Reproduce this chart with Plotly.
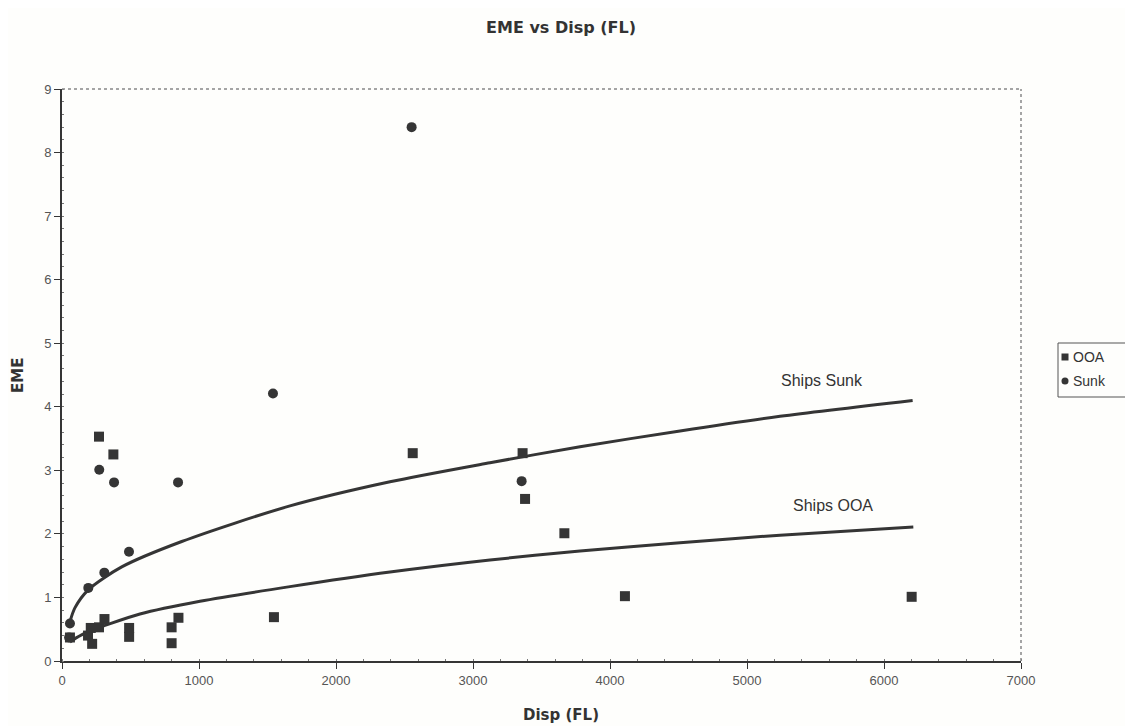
import plotly.graph_objects as go

# ---- data ----
ooa_disp = [58, 190, 210, 220, 270, 310, 490, 490, 800, 800, 850, 270, 375, 1547, 2560, 3362, 3380, 3667, 4109, 6202]
ooa_eme = [0.37, 0.40, 0.52, 0.27, 0.53, 0.66, 0.52, 0.38, 0.53, 0.28, 0.68, 3.53, 3.25, 0.69, 3.27, 3.27, 2.55, 2.01, 1.02, 1.01]

sunk_disp = [52, 58, 192, 272, 309, 380, 489, 847, 1540, 2552, 3355]
sunk_eme = [0.37, 0.59, 1.15, 3.01, 1.39, 2.81, 1.72, 2.81, 4.21, 8.40, 2.83]

# trend curves
sunk_curve_x = [58, 95, 192, 436, 874, 1664, 2394, 3124, 3781, 4511, 5241, 6209]
sunk_curve_y = [0.62, 0.84, 1.12, 1.48, 1.88, 2.44, 2.82, 3.12, 3.37, 3.62, 3.85, 4.10]

ooa_curve_x = [58, 100, 150, 220, 314, 569, 1007, 1664, 2394, 3124, 3781, 4511, 5241, 6214]
ooa_curve_y = [0.30, 0.36, 0.42, 0.49, 0.56, 0.74, 0.94, 1.17, 1.40, 1.59, 1.73, 1.86, 1.98, 2.11]

x_ticks = [0, 1000, 2000, 3000, 4000, 5000, 6000, 7000]
y_ticks = [0, 1, 2, 3, 4, 5, 6, 7, 8, 9]

legend_names = ["OOA", "Sunk"]

ink = "#353535"
font_fam = "Liberation Sans, Arial, sans-serif"
bold_fam = "DejaVu Sans, Liberation Sans, sans-serif"

W, H = 1125, 718
L, T, R, B = 54, 81, 112, 65
pw, ph = W - L - R, H - T - B


def px_x(p):  # page pixel -> paper x
    return (p - 8 - L) / pw


def px_y(p):  # page pixel -> paper y
    return (H - B - (p - 8)) / ph


fig = go.Figure()

fig.add_trace(go.Scatter(x=sunk_curve_x, y=sunk_curve_y, mode="lines",
                         line=dict(color=ink, width=3, shape="spline", smoothing=0.8),
                         showlegend=False, hoverinfo="skip"))
fig.add_trace(go.Scatter(x=ooa_curve_x, y=ooa_curve_y, mode="lines",
                         line=dict(color=ink, width=3, shape="spline", smoothing=0.8),
                         showlegend=False, hoverinfo="skip"))

fig.add_trace(go.Scatter(x=ooa_disp, y=ooa_eme, mode="markers", name=legend_names[0],
                         marker=dict(symbol="square", size=10, color=ink),
                         showlegend=False))
fig.add_trace(go.Scatter(x=sunk_disp, y=sunk_eme, mode="markers", name=legend_names[1],
                         marker=dict(symbol="circle", size=10, color=ink),
                         showlegend=False))

fig.add_annotation(x=5545, y=4.42, text="Ships Sunk", showarrow=False,
                   font=dict(family=font_fam, size=16, color="#333"))
fig.add_annotation(x=5625, y=2.44, text="Ships OOA", showarrow=False,
                   font=dict(family=font_fam, size=16, color="#333"))

# axis titles placed as in the reference
fig.add_annotation(xref="paper", yref="paper", x=px_x(561), y=px_y(715),
                   text="<b>Disp (FL)</b>", showarrow=False, xanchor="center", yanchor="middle",
                   font=dict(family=bold_fam, size=15, color="#333"))
fig.add_annotation(xref="paper", yref="paper", x=px_x(18), y=px_y(376),
                   text="<b>EME</b>", showarrow=False, textangle=-90,
                   xanchor="center", yanchor="middle",
                   font=dict(family=bold_fam, size=15, color="#333"))

# dotted top / right frame
fig.add_shape(type="line", xref="paper", yref="paper", x0=0, x1=1, y0=1, y1=1,
              line=dict(color="#888", width=1.5, dash="dot"))
fig.add_shape(type="line", xref="paper", yref="paper", x0=1, x1=1, y0=0, y1=1,
              line=dict(color="#888", width=1.5, dash="dot"))

# legend box drawn by hand (compact like the reference)
fig.add_shape(type="rect", xref="paper", yref="paper",
              x0=px_x(1058), x1=px_x(1127), y0=px_y(397), y1=px_y(343),
              line=dict(color="#555", width=1), fillcolor="#fefefc")
sq = 3.5
fig.add_shape(type="rect", xref="paper", yref="paper",
              x0=px_x(1065 - sq), x1=px_x(1065 + sq), y0=px_y(357 + sq), y1=px_y(357 - sq),
              line=dict(width=0), fillcolor=ink)
fig.add_shape(type="circle", xref="paper", yref="paper",
              x0=px_x(1065 - sq), x1=px_x(1065 + sq), y0=px_y(381 + sq), y1=px_y(381 - sq),
              line=dict(width=0), fillcolor=ink)
for name, yp in zip(legend_names, [357, 381]):
    fig.add_annotation(xref="paper", yref="paper", x=px_x(1071), y=px_y(yp),
                       xanchor="left", yanchor="middle", text=name, showarrow=False,
                       font=dict(family=font_fam, size=14, color="#333"))

fig.update_layout(
    width=W, height=H,
    margin=dict(l=L, r=R, t=T, b=B, autoexpand=False),
    paper_bgcolor="#fefefc", plot_bgcolor="#fefefc",
    font=dict(family=font_fam, size=13, color="#555"),
    showlegend=False,
    title=dict(text="<b>EME vs Disp (FL)</b>", x=(561 - 8) / W, xanchor="center",
               y=1 - (27 - 8) / H, yanchor="middle",
               font=dict(family=bold_fam, size=16, color="#333")),
    xaxis=dict(range=[0, 7000], tickvals=x_ticks, ticks="outside", ticklen=6,
               tickcolor=ink, showline=True, linecolor=ink, linewidth=2,
               showgrid=False, zeroline=False, automargin=False,
               minor=dict(ticks="inside", ticklen=2, tickcolor="#777", dtick=200)),
    yaxis=dict(range=[0, 9], tickvals=y_ticks, ticks="outside", ticklen=6,
               tickcolor=ink, showline=True, linecolor=ink, linewidth=2,
               showgrid=False, zeroline=False, automargin=False,
               minor=dict(ticks="inside", ticklen=2, tickcolor="#777", dtick=0.2)),
)

fig.write_html("out.html")
